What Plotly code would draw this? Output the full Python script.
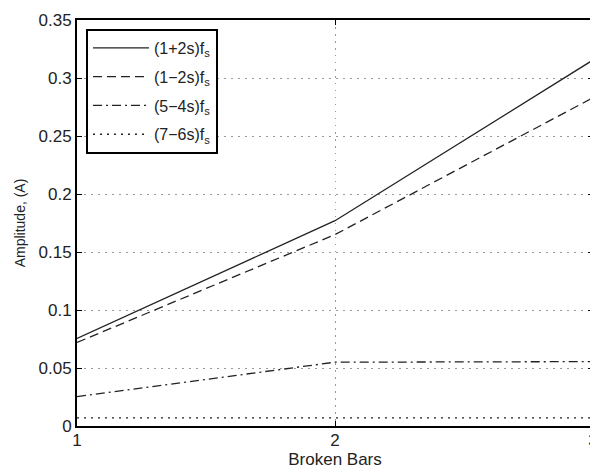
import plotly.graph_objects as go

x_bars = [1, 2, 3]
s_1p2s = [0.0755, 0.177, 0.3155]
s_1m2s = [0.072, 0.165, 0.283]
s_5m4s = [0.0253, 0.055, 0.0555]
s_7m6s = [0.007, 0.007, 0.007]
names = ["(1+2s)f<sub>s</sub>", "(1\u22122s)f<sub>s</sub>", "(5\u22124s)f<sub>s</sub>", "(7\u22126s)f<sub>s</sub>"]
dashes = ["solid", "9px,5px", "9px,4px,2px,4px", "2px,5px"]
y_ticks = [0, 0.05, 0.1, 0.15, 0.2, 0.25, 0.3, 0.35]
y_labels = ["0", "0.05", "0.1", "0.15", "0.2", "0.25", "0.3", "0.35"]
x_ticks = [1, 2, 3]
x_labels = ["1", "2", "3"]

fig = go.Figure()
for i, (ys, nm, d) in enumerate(zip([s_1p2s, s_1m2s, s_5m4s, s_7m6s], names, dashes)):
    fig.add_trace(go.Scatter(x=x_bars, y=ys, mode="lines", name=nm, legendgroup=f"g{i}",
                             line=dict(color="#222222", width=1.3, dash=d)))

fam = "Liberation Sans, Arial, Helvetica, sans-serif"
tick_font = dict(family=fam, size=17, color="#222222")
axis_common = dict(showline=True, linecolor="black", linewidth=2, mirror="ticks",
                   ticks="inside", ticklen=5, tickcolor="black", tickwidth=1,
                   showgrid=True, gridcolor="#999999", griddash="1.5px,5.5px", gridwidth=1,
                   zeroline=False, tickfont=tick_font, automargin=False,
                   ticklabeloverflow="allow")
# page body has an 8px default margin, so the figure is sized/offset accordingly
fig.update_layout(
    width=590, height=462,
    margin=dict(l=69, r=5, t=12, b=44),
    paper_bgcolor="white", plot_bgcolor="white",
    font=tick_font,
    xaxis=dict(range=[1, 3], tickvals=x_ticks, ticktext=x_labels, ticklabelstandoff=-2,
               title=dict(text="Broken Bars", font=dict(family=fam, size=17, color="#222222"), standoff=4),
               **axis_common),
    yaxis=dict(range=[0, 0.35], tickvals=y_ticks, ticktext=y_labels,
               title=dict(text="Amplitude, (A)", font=dict(family=fam, size=14, color="#222222"), standoff=10),
               **axis_common),
    legend=dict(x=0.0174, y=0.978, xanchor="left", yanchor="top",
                bgcolor="white", bordercolor="black", borderwidth=2,
                font=dict(family=fam, size=16, color="#222222"),
                tracegroupgap=5, traceorder="grouped", itemwidth=56),
    showlegend=True,
)
fig.write_html("out.html")
